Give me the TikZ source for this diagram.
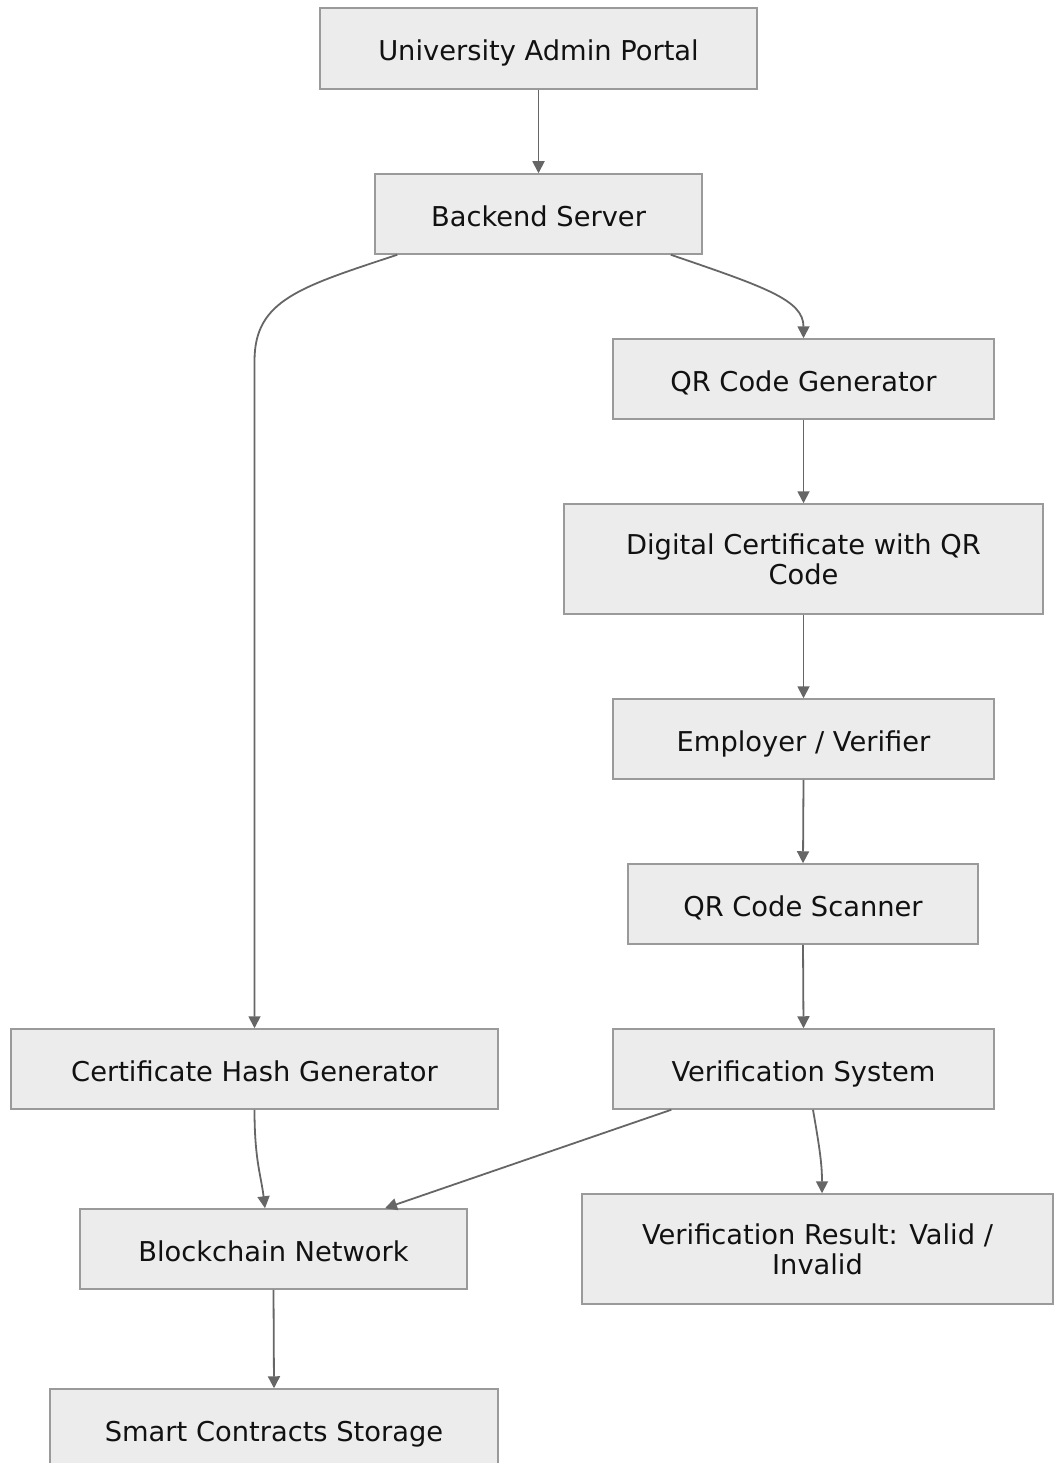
\documentclass[tikz,border=0pt]{standalone}
\usepackage{fontspec}
\setmainfont{DejaVu Sans}
\usetikzlibrary{arrows.meta,calc}
\definecolor{boxfill}{HTML}{ECECEC}
\definecolor{boxline}{HTML}{9A9A9A}
\definecolor{edgecol}{HTML}{666666}
\definecolor{txt}{HTML}{111111}
\begin{document}
\begin{tikzpicture}[x=1pt,y=-1pt,
  box/.style={draw=boxline,fill=boxfill,line width=1.5pt,rectangle,inner sep=0pt,
    text=txt,align=center,font=\fontsize{27.3}{30}\selectfont},
  one/.style={box,text height=26pt,text depth=1pt},
  edge/.style={draw=edgecol,line width=1.8pt,-{Triangle[length=12pt,width=12pt]}}]
\useasboundingbox (0,0) rectangle (1054,1463);
\node[one,minimum width=437pt,minimum height=81pt] (uap) at (538.5,48.5) {University Admin Portal};
\node[one,minimum width=327pt,minimum height=80pt] (bs) at (538.5,214) {Backend Server};
\node[one,minimum width=381pt,minimum height=80pt] (qrg) at (803.5,379) {QR Code Generator};
\node[box,minimum width=479pt,minimum height=110pt] (dc) at (803.5,559) {Digital Certificate with QR\\Code};
\node[one,minimum width=381pt,minimum height=80pt] (ev) at (803.5,739) {Employer / Verifier};
\node[one,minimum width=350pt,minimum height=80pt] (qrs) at (803,904) {QR Code Scanner};
\node[one,minimum width=381pt,minimum height=80pt] (vs) at (803.5,1069) {Verification System};
\node[one,minimum width=487pt,minimum height=80pt] (chg) at (254.5,1069) {Certificate Hash Generator};
\node[one,minimum width=387pt,minimum height=80pt] (bn) at (273.5,1249) {Blockchain Network};
\node[box,minimum width=471pt,minimum height=110pt] (vr) at (817.5,1249) {Verification Result: Valid /\\Invalid};
\node[one,minimum width=448pt,minimum height=80pt] (scs) at (274,1429) {Smart Contracts Storage};

\draw[edge] (uap.south) -- (bs.north);
\draw[edge] ([xshift=23pt]bs.south west) .. controls (300,287) and (255,300) .. (chg.north |- 0,360) -- (chg.north);
\draw[edge] ([xshift=-32pt]bs.south east) .. controls (765,287) and (803.5,300) .. (qrg.north);
\draw[edge] (qrg.south) -- (dc.north);
\draw[edge] (dc.south) -- (ev.north);
\draw[edge] (ev.south) -- (qrs.north);
\draw[edge] (qrs.south) -- (vs.north);
\draw[edge] (chg.south) .. controls (254.5,1160) and (261,1175) .. ([xshift=-8.5pt]bn.north);
\draw[edge] ([xshift=59pt]vs.south west) -- ([xshift=111.5pt]bn.north);
\draw[edge] ([xshift=9.5pt]vs.south) .. controls (820,1150) and (822,1165) .. ([xshift=4.5pt]vr.north);
\draw[edge] (bn.south) -- (scs.north);
\end{tikzpicture}
\end{document}
